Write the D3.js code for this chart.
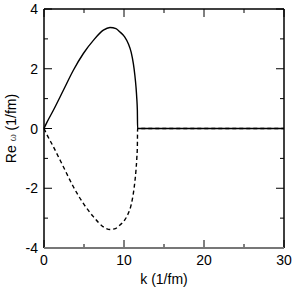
<!DOCTYPE html>
<html><head><meta charset="utf-8">
<script src="https://cdn.jsdelivr.net/npm/d3@7"></script>
<style>body{margin:0;background:#fff}svg{display:block}</style>
</head><body>
<script>
const kVals = [0, 0.3, 1.17, 2.42, 3.67, 4.92, 6.17, 7.42, 8.25, 9.0, 9.5, 10.1, 10.54, 10.9, 11.17, 11.35, 11.5, 11.6, 11.67, 11.7, 15, 20, 25, 30];
const rePos = [0, 0.17, 0.61, 1.28, 1.95, 2.51, 2.95, 3.29, 3.38, 3.34, 3.23, 3.06, 2.84, 2.55, 2.17, 1.8, 1.39, 1.0, 0.6, 0, 0, 0, 0, 0];
const reNeg = [0, -0.17, -0.61, -1.28, -1.95, -2.51, -2.95, -3.29, -3.38, -3.34, -3.23, -3.06, -2.84, -2.55, -2.17, -1.8, -1.39, -1.0, -0.6, 0, 0, 0, 0, 0];
const xTicks = [0, 10, 20, 30];
const xMinor = [5, 15, 25];
const yTicks = [-4, -2, 0, 2, 4];
const yMinor = [-3, -1, 1, 3];

const W = 294, H = 290;
const m = {l: 44, r: 10, t: 9, b: 42};
const svg = d3.select("body").append("svg").attr("width", W).attr("height", H);
const x = d3.scaleLinear().domain([0, 30]).range([m.l, W - m.r]);
const y = d3.scaleLinear().domain([-4, 4]).range([H - m.b, m.t]);
const font = "Liberation Sans, Arial, sans-serif";

const line = d3.line().x((d, i) => x(kVals[i])).y(d => y(d)).curve(d3.curveMonotoneX);

svg.append("path").attr("d", line(reNeg)).attr("fill", "none").attr("stroke", "#000")
  .attr("stroke-width", 1.4).attr("stroke-dasharray", "4,3");
svg.append("path").attr("d", line(rePos)).attr("fill", "none").attr("stroke", "#000")
  .attr("stroke-width", 1.4);

const g = svg.append("g");
const L = x(0), R = x(30), T = y(4), B = y(-4);
[...xTicks.map(v => [v, 8]), ...xMinor.map(v => [v, 4])].forEach(([v, len]) => {
  g.append("line").attr("x1", x(v)).attr("x2", x(v)).attr("y1", B).attr("y2", B - len).attr("stroke", "#000").attr("stroke-width", 1);
  g.append("line").attr("x1", x(v)).attr("x2", x(v)).attr("y1", T).attr("y2", T + len).attr("stroke", "#000").attr("stroke-width", 1);
});
[...yTicks.map(v => [v, 8]), ...yMinor.map(v => [v, 4])].forEach(([v, len]) => {
  g.append("line").attr("y1", y(v)).attr("y2", y(v)).attr("x1", L).attr("x2", L + len).attr("stroke", "#000").attr("stroke-width", 1);
  g.append("line").attr("y1", y(v)).attr("y2", y(v)).attr("x1", R).attr("x2", R - len).attr("stroke", "#000").attr("stroke-width", 1);
});
g.append("line").attr("x1", L).attr("x2", R).attr("y1", T).attr("y2", T).attr("stroke", "#000").attr("stroke-width", 1.5);
g.append("line").attr("x1", L).attr("x2", L).attr("y1", T).attr("y2", B).attr("stroke", "#000").attr("stroke-width", 1.5);
g.append("line").attr("x1", R).attr("x2", R).attr("y1", T).attr("y2", B).attr("stroke", "#000").attr("stroke-width", 1.5);
g.append("line").attr("x1", L).attr("x2", R).attr("y1", B).attr("y2", B).attr("stroke", "#777").attr("stroke-width", 2);

xTicks.forEach(v => g.append("text").attr("x", x(v)).attr("y", B + 17).attr("text-anchor", "middle")
  .attr("font-family", font).attr("font-size", 14).text(v));
yTicks.forEach(v => g.append("text").attr("x", L - 6).attr("y", y(v) + 5).attr("text-anchor", "end")
  .attr("font-family", font).attr("font-size", 14).text(v));

svg.append("text").attr("x", (L + R) / 2).attr("y", 284).attr("text-anchor", "middle")
  .attr("font-family", font).attr("font-size", 14).text("k (1/fm)");
const yl = svg.append("text").attr("transform", `translate(16,${(T + B) / 2}) rotate(-90)`)
  .attr("text-anchor", "middle").attr("font-family", font).attr("font-size", 14);
yl.append("tspan").text("Re ");
yl.append("tspan").attr("font-size", 9).attr("fill", "#444").text("ω");
yl.append("tspan").text(" (1/fm)");
</script>
</body></html>
